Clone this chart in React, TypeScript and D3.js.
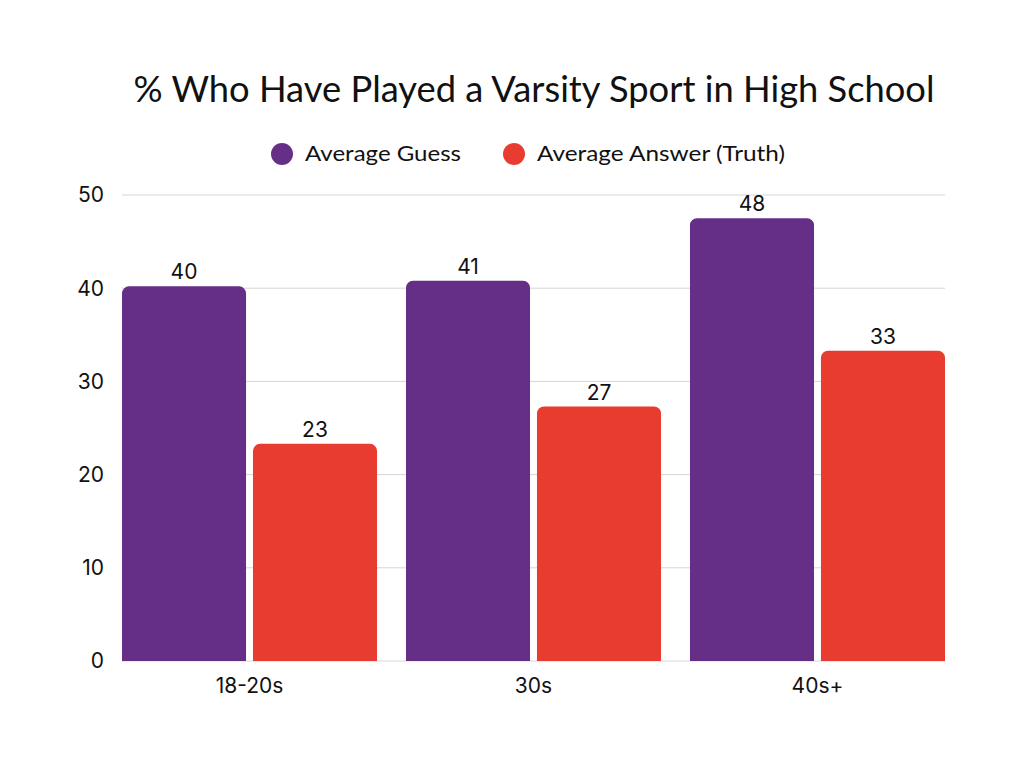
import React from "react";
import * as d3 from "d3";

const categories = ["18-20s", "30s", "40s+"];
const seriesNames = ["Average Guess", "Average Answer (Truth)"];
const guessValues = [40.2, 40.8, 47.5];
const truthValues = [23.3, 27.3, 33.3];
const yTicks = [0, 10, 20, 30, 40, 50];
const colors = ["#652f87", "#e83c30"];

const W = 1024;
const H = 768;
const left = 122;
const right = 945;
const top = 195;
const bottom = 661;
const FONT = "Inter, 'Open Sans', sans-serif";

function topRoundedRect(x: number, y: number, w: number, h: number, r: number) {
  const rr = Math.min(r, h, w / 2);
  const p = d3.path();
  p.moveTo(x, y + h);
  p.lineTo(x, y + rr);
  p.arcTo(x, y, x + rr, y, rr);
  p.lineTo(x + w - rr, y);
  p.arcTo(x + w, y, x + w, y + rr, rr);
  p.lineTo(x + w, y + h);
  p.closePath();
  return p.toString();
}

export default function App() {
  const x0 = d3.scaleBand<string>().domain(categories).range([left, right]).paddingInner(0.102).paddingOuter(0);
  const x1 = d3.scaleBand<string>().domain(seriesNames).range([0, x0.bandwidth()]).paddingInner(0.053).paddingOuter(0);
  const y = d3.scaleLinear().domain([0, 50]).range([bottom, top]);
  const data = [guessValues, truthValues];

  return (
    <svg width={W} height={H} style={{ position: "absolute", left: 0, top: 0, background: "#fff" }}>
      <rect x={0} y={0} width={W} height={H} fill="#fff" />
      <text x={534} y={102} textAnchor="middle" fontFamily="Lato, 'Open Sans', sans-serif" fontSize={36} fill="#111" textLength={801} lengthAdjust="spacingAndGlyphs">
        % Who Have Played a Varsity Sport in High School
      </text>
      {/* legend */}
      <circle cx={282} cy={154} r={11} fill={colors[0]} />
      <text x={305} y={161} fontFamily="Lato, sans-serif" fontSize={22} fill="#111" textLength={156} lengthAdjust="spacingAndGlyphs">{seriesNames[0]}</text>
      <circle cx={514} cy={154} r={11} fill={colors[1]} />
      <text x={537} y={161} fontFamily="Lato, sans-serif" fontSize={22} fill="#111" textLength={248} lengthAdjust="spacingAndGlyphs">{seriesNames[1]}</text>

      {/* grid */}
      {yTicks.map((t) => (
        <g key={t}>
          <line x1={left} x2={right} y1={y(t)} y2={y(t)} stroke="#d6d6d6" strokeWidth={1} />
          <text x={104} y={y(t)} dy="0.35em" textAnchor="end" fontFamily={FONT} fontSize={21} fill="#111">{t}</text>
        </g>
      ))}

      {/* bars */}
      {categories.map((c, i) => (
        <g key={c}>
          {seriesNames.map((s, j) => {
            const v = data[j][i];
            const bx = (x0(c) as number) + (x1(s) as number);
            const bw = x1.bandwidth();
            return (
              <g key={s}>
                <path d={topRoundedRect(bx, y(v), bw, bottom - y(v), 7)} fill={colors[j]} />
                <text x={bx + bw / 2} y={y(v) - 7} textAnchor="middle" fontFamily={FONT} fontSize={21} fill="#111">{Math.round(v)}</text>
              </g>
            );
          })}
          <text x={(x0(c) as number) + x0.bandwidth() / 2} y={693} textAnchor="middle" fontFamily={FONT} fontSize={21} fill="#111">{c}</text>
        </g>
      ))}
    </svg>
  );
}
